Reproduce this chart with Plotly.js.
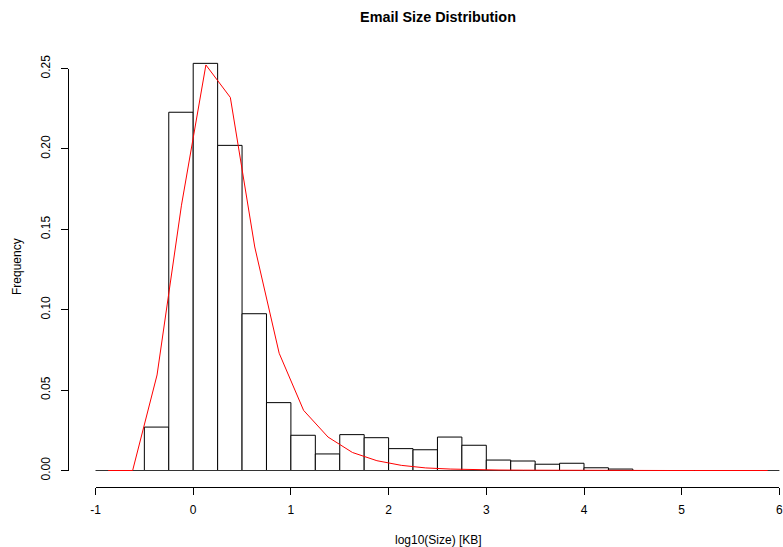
<!DOCTYPE html>
<html>
<head>
<meta charset="utf-8">
<script src="https://cdn.plot.ly/plotly-3.0.1.min.js"></script>
<style>html,body{margin:0;padding:0;background:#fff;}#chart{width:783px;height:547px;}</style>
</head>
<body>
<div id="chart"></div>
<script>
// Histogram bins (log10 size, width 0.25) and relative frequencies
const binCenters = [-0.375, -0.125, 0.125, 0.375, 0.625, 0.875, 1.125, 1.375, 1.625, 1.875,
                    2.125, 2.375, 2.625, 2.875, 3.125, 3.375, 3.625, 3.875, 4.125, 4.375];
const binFreq = [0.027, 0.2228, 0.2532, 0.2022, 0.0975, 0.0422, 0.0219, 0.0103, 0.0223, 0.0204,
                 0.0136, 0.0129, 0.0208, 0.0157, 0.0065, 0.0059, 0.0039, 0.0045, 0.0017, 0.0009];
const binWidth = 0.25;

// Red frequency curve
const curveX = [-0.87, -0.62, -0.37, -0.12, 0.13, 0.38, 0.63, 0.88, 1.13, 1.38,
                1.63, 1.88, 2.13, 2.38, 2.63, 2.88, 3.13, 3.38, 3.63, 3.88,
                4.13, 4.38, 4.63, 4.88, 5.13, 5.38, 5.63, 5.88];
const curveY = [0, 0, 0.0594, 0.165, 0.2522, 0.232, 0.139, 0.0729, 0.0374, 0.0208,
                0.0112, 0.0061, 0.0032, 0.0016, 0.0009, 0.0005, 0.0003, 0.0002, 0.0001, 0,
                0, 0, 0, 0, 0, 0, 0, 0];

// Zero reference line
const baselineX = [-1, 6];
const baselineY = [0, 0];

// Axis ticks
const xTicks = [-1, 0, 1, 2, 3, 4, 5, 6];
const xTickText = ['-1', '0', '1', '2', '3', '4', '5', '6'];
const yTicks = [0, 0.05, 0.10, 0.15, 0.20, 0.25];
const yTickText = ['0.00', '0.05', '0.10', '0.15', '0.20', '0.25'];

const FONT = '"Liberation Sans", Arial, Helvetica, sans-serif';

const traces = [
  {
    type: 'scatter', mode: 'lines', x: [], y: [], xaxis: 'x2', yaxis: 'y2',
    showlegend: false, hoverinfo: 'skip'
  },
  {
    type: 'scatter', mode: 'lines', x: baselineX, y: baselineY,
    line: {color: '#333333', width: 1}, hoverinfo: 'skip', showlegend: false
  },
  {
    type: 'bar', x: binCenters, y: binFreq, width: binWidth,
    marker: {color: '#ffffff', line: {color: '#000000', width: 1}},
    showlegend: false
  },
  {
    type: 'scatter', mode: 'lines', x: curveX, y: curveY,
    line: {color: '#ff0000', width: 1}, showlegend: false
  }
];

// Plot area: x from 68 to 783 px, y from 47 to 487 px
const L = 68, R = 0, T = 47, B = 60, W = 783, H = 547;
const pw = W - L - R, ph = H - T - B;
const pxPerX = 97.7;
const x0px = 193.2;            // pixel of x = 0
const y0px = 470.5;            // pixel of y = 0
const pxPerY = 1608;

const xMin = (L - x0px) / pxPerX;
const xMax = (W - R - x0px) / pxPerX;
const yMin = (y0px - (H - B)) / pxPerY;
const yMax = (y0px - T) / pxPerY;

const px2fx = p => (p - L) / pw;
const py2fy = p => ((H - B) - p) / ph;

const layout = {
  width: W, height: H,
  margin: {l: L, r: R, t: T, b: B, pad: 0},
  paper_bgcolor: '#ffffff', plot_bgcolor: 'rgba(0,0,0,0)',
  font: {family: FONT, size: 12, color: '#000000'},
  bargap: 0,
  title: {
    text: 'Email Size Distribution',
    font: {family: FONT, size: 14.4, weight: 'bold', color: '#000000'},
    x: 438 / W, xref: 'container', xanchor: 'center',
    y: 1 - 17 / H, yref: 'container', yanchor: 'middle'
  },
  xaxis: {
    domain: [0, 1], range: [xMin, xMax], visible: false, fixedrange: true
  },
  yaxis: {
    domain: [0, 1], range: [yMin, yMax], visible: false, fixedrange: true
  },
  xaxis2: {
    domain: [px2fx(x0px - pxPerX), px2fx(x0px + 6 * pxPerX)],
    range: [-1, 6], anchor: 'free', position: 0,
    showline: true, linecolor: '#000000', linewidth: 1,
    ticks: 'outside', ticklen: 7, tickwidth: 1, tickcolor: '#000000',
    tickmode: 'array', tickvals: xTicks, ticktext: xTickText,
    ticklabeloverflow: 'allow', ticklabelstandoff: 5,
    showgrid: false, zeroline: false,
    tickfont: {family: FONT, size: 12, color: '#000000'}
  },
  yaxis2: {
    domain: [py2fy(y0px), py2fy(y0px - 0.25 * pxPerY)],
    range: [0, 0.25], anchor: 'free', position: 0,
    showline: true, linecolor: '#000000', linewidth: 1,
    ticks: 'outside', ticklen: 7, tickwidth: 1, tickcolor: '#000000',
    tickmode: 'array', tickvals: yTicks, ticktext: yTickText,
    tickangle: -90, ticklabeloverflow: 'allow', ticklabelstandoff: 6,
    showgrid: false, zeroline: false,
    tickfont: {family: FONT, size: 12, color: '#000000'}
  },
  annotations: [
    {
      text: 'log10(Size) [KB]', xref: 'paper', yref: 'paper',
      x: px2fx(438), y: py2fy(540), xanchor: 'center', yanchor: 'middle',
      showarrow: false, font: {family: FONT, size: 12, color: '#000000'}
    },
    {
      text: 'Frequency', xref: 'paper', yref: 'paper',
      x: px2fx(17), y: py2fy(267), xanchor: 'center', yanchor: 'middle',
      textangle: -90, showarrow: false, font: {family: FONT, size: 12, color: '#000000'}
    }
  ]
};

Plotly.newPlot('chart', traces, layout, {displayModeBar: false, staticPlot: true});
</script>
</body>
</html>
